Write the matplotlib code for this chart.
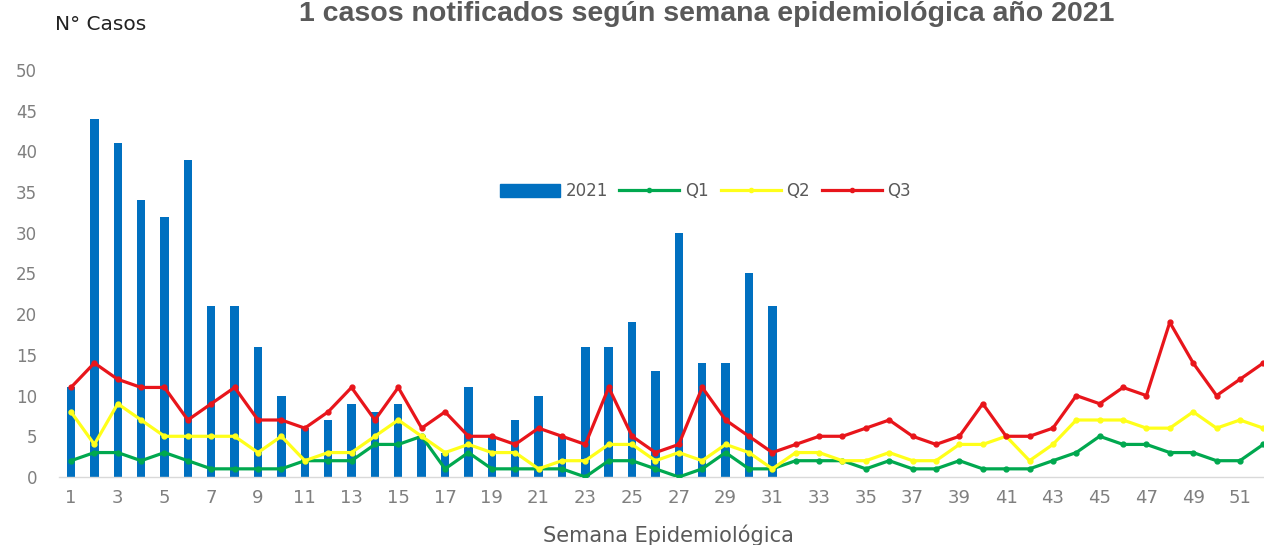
import numpy as np
import matplotlib
matplotlib.use("Agg")
import matplotlib.pyplot as plt
from matplotlib.patches import Patch
from matplotlib.lines import Line2D

# semanas epidemiologicas
semanas = list(range(1, 53))

# casos 2021 (solo hasta semana 31)
casos_2021 = [11, 44, 41, 34, 32, 39, 21, 21, 16, 10,
              6, 7, 9, 8, 9, 5, 3, 11, 5, 7,
              10, 5, 16, 16, 19, 13, 30, 14, 14, 25,
              21]

q1 = [2, 3, 3, 2, 3, 2, 1, 1, 1, 1,
      2, 2, 2, 4, 4, 5, 1, 3, 1, 1,
      1, 1, 0, 2, 2, 1, 0, 1, 3, 1,
      1, 2, 2, 2, 1, 2, 1, 1, 2, 1,
      1, 1, 2, 3, 5, 4, 4, 3, 3, 2,
      2, 4]

q2 = [8, 4, 9, 7, 5, 5, 5, 5, 3, 5,
      2, 3, 3, 5, 7, 5, 3, 4, 3, 3,
      1, 2, 2, 4, 4, 2, 3, 2, 4, 3,
      1, 3, 3, 2, 2, 3, 2, 2, 4, 4,
      5, 2, 4, 7, 7, 7, 6, 6, 8, 6,
      7, 6]

q3 = [11, 14, 12, 11, 11, 7, 9, 11, 7, 7,
      6, 8, 11, 7, 11, 6, 8, 5, 5, 4,
      6, 5, 4, 11, 5, 3, 4, 11, 7, 5,
      3, 4, 5, 5, 6, 7, 5, 4, 5, 9,
      5, 5, 6, 10, 9, 11, 10, 19, 14, 10,
      12, 14]

x_ticks = list(range(1, 53, 2))
y_ticks = list(range(0, 51, 5))

azul = "#0070C0"
verde = "#00A84F"
amarillo = "#FFFF1A"
rojo = "#E8151B"
gris = "#7F7F7F"

fig = plt.figure(figsize=(12.64, 5.45), dpi=100)
ax = fig.add_axes([0.0469, 0.1248, 0.9618, 0.7468])

ax.bar(semanas[:len(casos_2021)], casos_2021, width=0.36, color=azul, zorder=1)
ax.plot(semanas, q1, color=verde, lw=2.3, marker="o", ms=3.5, zorder=3)
ax.plot(semanas, q2, color=amarillo, lw=2.3, marker="o", ms=3.5, zorder=3)
ax.plot(semanas, q3, color=rojo, lw=2.3, marker="o", ms=3.5, zorder=4)

ax.set_xlim(0.5, 52.5)
ax.set_ylim(0, 50)
ax.set_xticks(x_ticks)
ax.set_xticklabels([str(v) for v in x_ticks], fontsize=13, color=gris)
ax.set_yticks(y_ticks)
ax.set_yticklabels([str(v) for v in y_ticks], fontsize=12, color=gris)
ax.tick_params(axis="both", length=0)
ax.tick_params(axis="x", pad=9)
ax.tick_params(axis="y", pad=16)

for s in ["top", "right", "left"]:
    ax.spines[s].set_visible(False)
ax.spines["bottom"].set_color("#D9D9D9")
ax.spines["bottom"].set_linewidth(1)

handles = [Patch(color=azul),
           Line2D([], [], color=verde, lw=2.3, marker="o", ms=3),
           Line2D([], [], color=amarillo, lw=2.3, marker="o", ms=3),
           Line2D([], [], color=rojo, lw=2.3, marker="o", ms=3)]
fig.legend(handles, ["2021", "Q1", "Q2", "Q3"], loc="center", bbox_to_anchor=(0.558, 0.649),
           ncol=4, frameon=False, handlelength=3.6, handleheight=0.9, columnspacing=0.7,
           handletextpad=0.35, fontsize=12, labelcolor="#595959")

fig.text(0.559, 1 - 21 / 545, "1 casos notificados según semana epidemiológica año 2021",
         ha="center", va="baseline", fontsize=20.5, fontweight="bold", color="#595959",
         family=["Liberation Sans", "DejaVu Sans"])
fig.text(55 / 1264, 1 - 25 / 545, "N° Casos", ha="left", va="center", fontsize=14.5,
         color="#222222")
fig.text(668 / 1264, 1 - 535 / 545, "Semana Epidemiológica", ha="center", va="center",
         fontsize=15, color="#595959")

fig.savefig("out.png", dpi=100)
